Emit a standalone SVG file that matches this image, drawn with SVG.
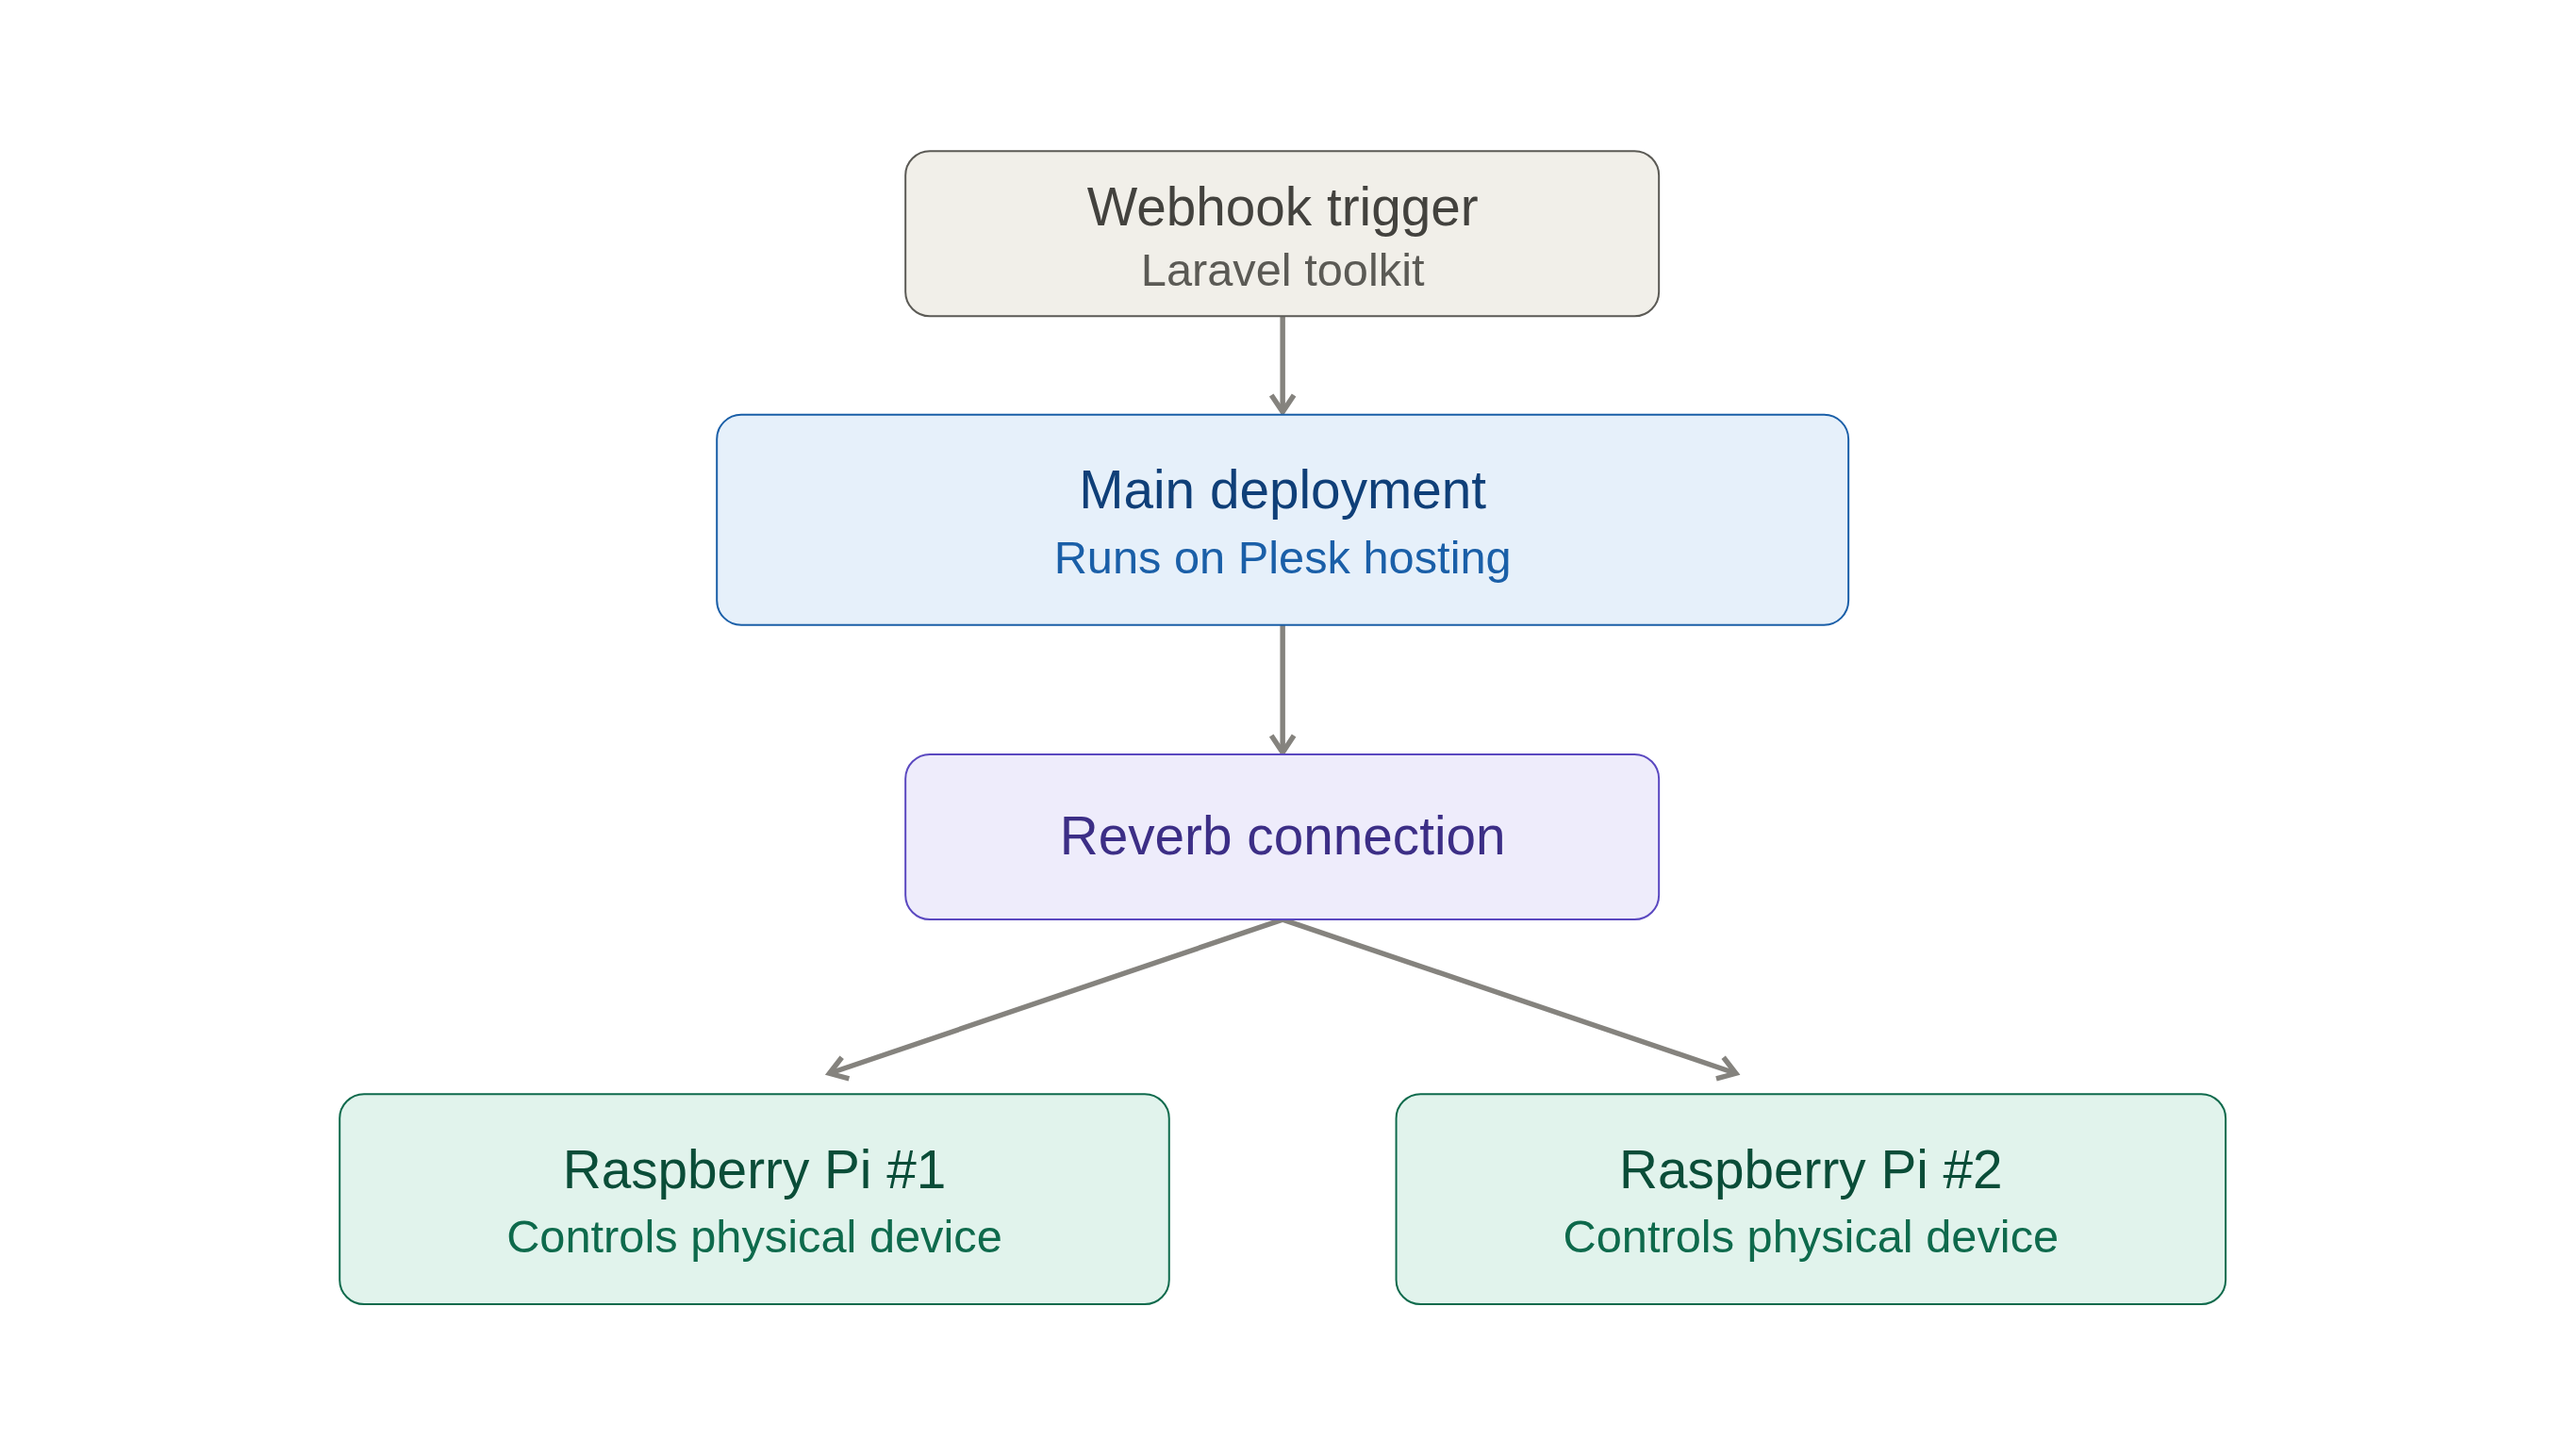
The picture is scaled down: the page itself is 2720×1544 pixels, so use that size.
<svg xmlns="http://www.w3.org/2000/svg" width="2720" height="1544" viewBox="0 0 2720 1544">
<style>
text{font-family:"Liberation Sans",Arial,sans-serif;text-anchor:middle}
.t{font-size:57px}.s{font-size:49px}
.e{stroke:#85837e;stroke-width:5.5;fill:none}
</style>
<defs><marker id="a" markerWidth="30" markerHeight="30" refX="22" refY="15" orient="auto" markerUnits="userSpaceOnUse"><path d="M4,3 L22,15 L4,27" fill="none" stroke="#85837e" stroke-width="5.5"/></marker></defs>
<rect width="2720" height="1544" fill="#fff"/>
<g transform="scale(0.995)">
<g id="connectors">
<line class="e" x1="1367" y1="337" x2="1367" y2="439" marker-end="url(#a)"/>
<line class="e" x1="1367" y1="666" x2="1367" y2="802" marker-end="url(#a)"/>
<line class="e" x1="1367" y1="980" x2="884" y2="1144" marker-end="url(#a)"/>
<line class="e" x1="1367" y1="980" x2="1850" y2="1144" marker-end="url(#a)"/>
</g>
<g id="webhook"><rect x="965" y="161" width="803" height="176" rx="26" fill="#f1efe9" stroke="#5b5a55" stroke-width="2"/>
<text class="t" x="1367" y="240" fill="#43423e">Webhook trigger</text><text class="s" x="1367" y="305" fill="#5b5a55">Laravel toolkit</text></g>
<g id="main"><rect x="764" y="442" width="1206" height="224" rx="26" fill="#e6f0fa" stroke="#1a5fa8" stroke-width="2"/>
<text class="t" x="1367" y="542" fill="#0f3f78">Main deployment</text><text class="s" x="1367" y="611" fill="#1a5fa8">Runs on Plesk hosting</text></g>
<g id="reverb"><rect x="965" y="804" width="803" height="176" rx="26" fill="#eeecfb" stroke="#5a48c0" stroke-width="2"/>
<text class="t" x="1367" y="911" fill="#3c2e86">Reverb connection</text></g>
<g id="pi1"><rect x="362" y="1166" width="884" height="224" rx="26" fill="#e1f3ec" stroke="#0e6a4c" stroke-width="2"/>
<text class="t" x="804" y="1266" fill="#0a4d38">Raspberry Pi #1</text><text class="s" x="804" y="1335" fill="#0e6a4c">Controls physical device</text></g>
<g id="pi2"><rect x="1488" y="1166" width="884" height="224" rx="26" fill="#e1f3ec" stroke="#0e6a4c" stroke-width="2"/>
<text class="t" x="1930" y="1266" fill="#0a4d38">Raspberry Pi #2</text><text class="s" x="1930" y="1335" fill="#0e6a4c">Controls physical device</text></g>
</g>
</svg>
